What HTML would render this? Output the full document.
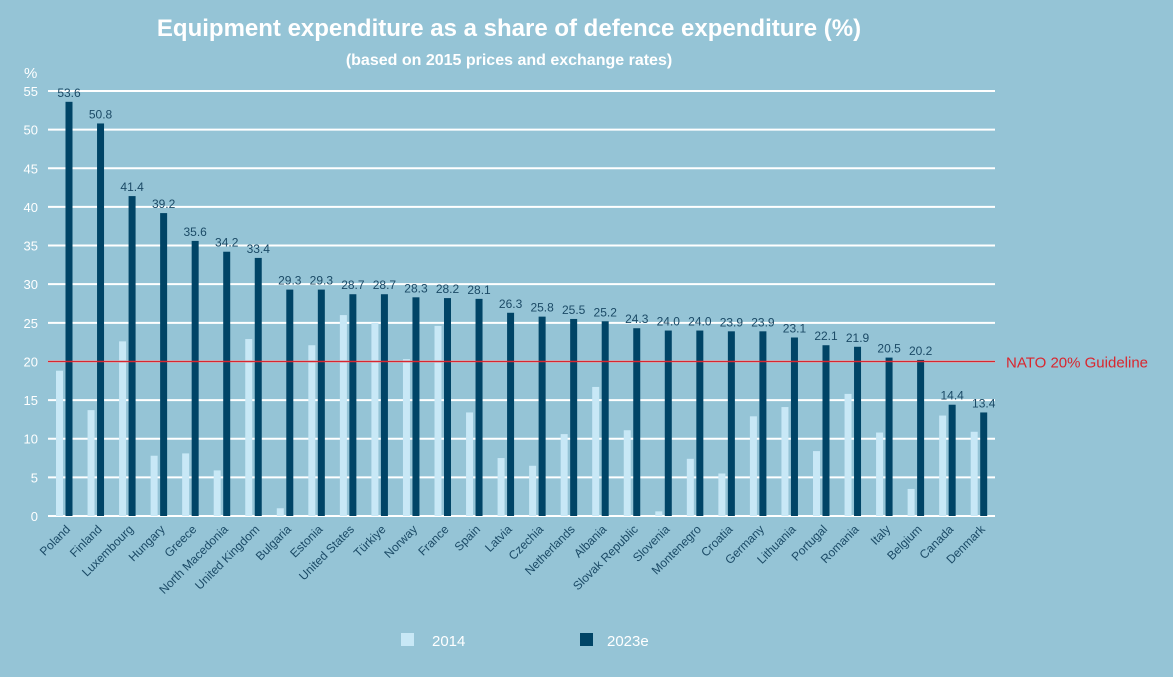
<!DOCTYPE html>
<html><head><meta charset="utf-8"><style>
body{margin:0;background:#95c4d6;}
svg{display:block;font-family:"Liberation Sans",sans-serif;}
</style></head><body>
<svg width="1173" height="677" viewBox="0 0 1173 677">
<rect width="1173" height="677" fill="#95c4d6"/>
<text x="509" y="36" text-anchor="middle" fill="#fff" font-weight="bold" font-size="24">Equipment expenditure as a share of defence expenditure (%)</text>
<text x="509" y="65" text-anchor="middle" fill="#fff" font-weight="bold" font-size="16">(based on 2015 prices and exchange rates)</text>
<text x="24" y="78" fill="#fff" font-size="15">%</text>
<g id="grid"></g><g id="bars"></g><g id="labels"></g>
<rect x="401" y="633" width="13" height="13" fill="#c8e8f6"/>
<text x="432" y="646" fill="#fff" font-size="15">2014</text>
<rect x="580" y="633" width="13" height="13" fill="#004466"/>
<text x="607" y="646" fill="#fff" font-size="15">2023e</text>
</svg>
<script>
const categories=["Poland","Finland","Luxembourg","Hungary","Greece","North Macedonia","United Kingdom","Bulgaria","Estonia","United States","Türkiye","Norway","France","Spain","Latvia","Czechia","Netherlands","Albania","Slovak Republic","Slovenia","Montenegro","Croatia","Germany","Lithuania","Portugal","Romania","Italy","Belgium","Canada","Denmark"];
const values2014=[18.8,13.7,22.6,7.8,8.1,5.9,22.9,1.0,22.1,26.0,25.0,20.3,24.6,13.4,7.5,6.5,10.6,16.7,11.1,0.6,7.4,5.5,12.9,14.1,8.4,15.8,10.8,3.5,13.0,10.9];
const values2023=[53.6,50.8,41.4,39.2,35.6,34.2,33.4,29.3,29.3,28.7,28.7,28.3,28.2,28.1,26.3,25.8,25.5,25.2,24.3,24.0,24.0,23.9,23.9,23.1,22.1,21.9,20.5,20.2,14.4,13.4];
const yTicks=[0,5,10,15,20,25,30,35,40,45,50,55];
const guideline=20;
const NS="http://www.w3.org/2000/svg";
const n=categories.length;
const y=v=>516-v*(425/55);
const xc=i=>69+i*((983.7-69)/(n-1));
function mk(tag,attrs,parent,txt){const e=document.createElementNS(NS,tag);for(const k in attrs)e.setAttribute(k,attrs[k]);if(txt!=null)e.textContent=txt;parent.appendChild(e);return e;}
const grid=document.getElementById('grid'),bars=document.getElementById('bars'),labels=document.getElementById('labels');
yTicks.forEach(t=>{
 const l=mk('line',{x1:48,x2:995,y1:y(t),y2:y(t),stroke:'#fff','stroke-width':2},grid);
 
 
 const tx=mk('text',{x:38,y:y(t)+5,'text-anchor':'end',fill:'#fff','font-size':13},grid,t);
 
 
});
categories.forEach((c,i)=>{
 const x=xc(i);
 const b1=mk('rect',{x:x-13,y:y(values2014[i]),width:7,height:516-y(values2014[i]),fill:'#c8e8f6'},bars);
 
 
 const b2=mk('rect',{x:x-3.5,y:y(values2023[i]),width:7,height:516-y(values2023[i]),fill:'#004466'},bars);
 
 
 const v=mk('text',{x:x,y:y(values2023[i])-5,'text-anchor':'middle',fill:'#1b4a66','font-size':12},labels,values2023[i].toFixed(1));
 
 
 const cl=mk('text',{x:0,y:0,'text-anchor':'end',fill:'#1b4a66','font-size':12,transform:`translate(${x+2},${530}) rotate(-45)`},labels,c);
 
 
});
const gl=mk('line',{x1:48,x2:995,y1:y(guideline),y2:y(guideline),stroke:'#d9262e','stroke-width':1.5},labels);


const gt=mk('text',{x:1006,y:y(guideline)+6,fill:'#d9262e','font-size':15},labels,'NATO 20% Guideline');


</script>
</body></html>
